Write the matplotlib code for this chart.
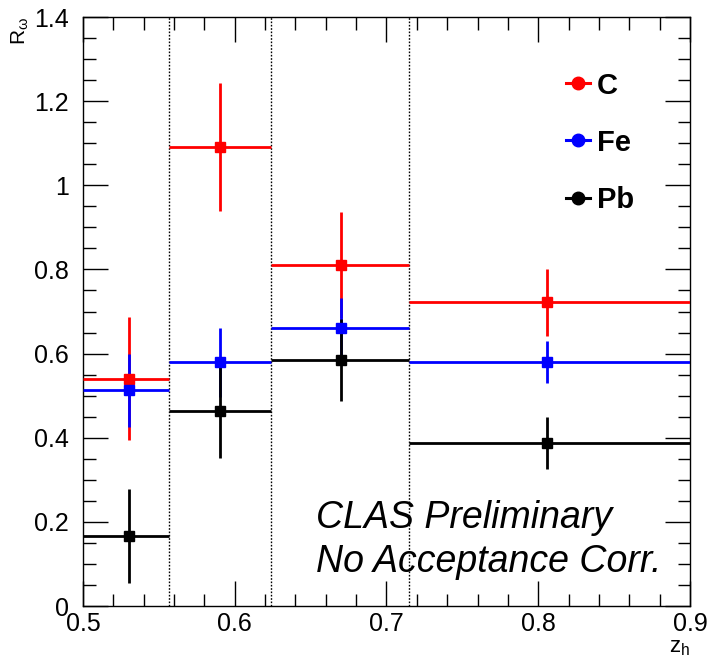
import numpy as np
import matplotlib
matplotlib.use('Agg')
import matplotlib.pyplot as plt
from matplotlib.lines import Line2D
from matplotlib.ticker import MultipleLocator

plt.rcParams['font.family'] = ['Liberation Sans', 'DejaVu Sans']
plt.rcParams['mathtext.fontset'] = 'custom'
plt.rcParams['mathtext.rm'] = 'Liberation Sans'
plt.rcParams['mathtext.it'] = 'Liberation Sans'

# ===数据
bin_edges = [0.5, 0.557, 0.624, 0.715, 0.9]
zh = [0.530, 0.590, 0.670, 0.806]

c_val = [0.540, 1.091, 0.810, 0.722]
c_err = [0.146, 0.151, 0.126, 0.080]
fe_val = [0.513, 0.580, 0.660, 0.580]
fe_err = [0.087, 0.082, 0.073, 0.049]
pb_val = [0.166, 0.463, 0.585, 0.387]
pb_err = [0.112, 0.110, 0.098, 0.062]

series = [('C', c_val, c_err, '#ff0000'),
          ('Fe', fe_val, fe_err, '#0000ff'),
          ('Pb', pb_val, pb_err, '#000000')]

fig = plt.figure(figsize=(7.1, 6.57), dpi=100)
ax = fig.add_axes([0.1169, 0.0776, 0.8549, 0.8965])

# 分箱虚线
for e in bin_edges[1:-1]:
    ax.axvline(e, color='black', ls=(0, (1.2, 1.2)), lw=1.0, zorder=1)

edges = np.array(bin_edges)
xl = np.array(zh) - edges[:-1]
xr = edges[1:] - np.array(zh)
for name, v, err, col in series:
    ax.errorbar(zh, v, yerr=err, xerr=[xl, xr], fmt='s', color=col, ms=6.5,
                elinewidth=2.0, capsize=0, zorder=3)

handles = [Line2D([], [], color=col, marker='o', ms=9, lw=2.2) for _, _, _, col in series]
leg = ax.legend(handles, [s[0] for s in series], loc='upper left', bbox_to_anchor=(0.753, 0.952),
                frameon=False, handlelength=0.8, handletextpad=0.25, labelspacing=1.0,
                prop={'family': 'Liberation Sans', 'weight': 'bold', 'size': 21})

ax.text(0.384, 0.149, 'CLAS Preliminary', transform=ax.transAxes, style='italic',
        fontsize=27, va='center')
ax.text(0.384, 0.075, 'No Acceptance Corr.', transform=ax.transAxes, style='italic',
        fontsize=27, va='center')

ax.set_xlim(0.5, 0.9)
ax.set_ylim(0, 1.4)
ax.xaxis.set_major_locator(MultipleLocator(0.1))
ax.xaxis.set_minor_locator(MultipleLocator(0.02))
ax.yaxis.set_major_locator(MultipleLocator(0.2))
ax.yaxis.set_minor_locator(MultipleLocator(0.05))
ax.xaxis.set_major_formatter(plt.FuncFormatter(lambda v, p: '%g' % round(v, 2)))
ax.yaxis.set_major_formatter(plt.FuncFormatter(lambda v, p: '%g' % round(v, 2)))
ax.tick_params(which='both', direction='in', top=True, right=True, width=1.0, labelsize=18)
ax.tick_params(which='major', length=18)
ax.tick_params(which='minor', length=9)
ax.tick_params(axis='x', pad=4)
ax.tick_params(axis='y', pad=10)
for s in ax.spines.values():
    s.set_linewidth(1.0)

ax.set_xlabel(r'z$_{\rm h}$', loc='right', fontsize=16, labelpad=1)
ax.set_ylabel(r'R$_{\omega}$', loc='top', fontsize=15, labelpad=2)

fig.savefig('out.png', dpi=100)
